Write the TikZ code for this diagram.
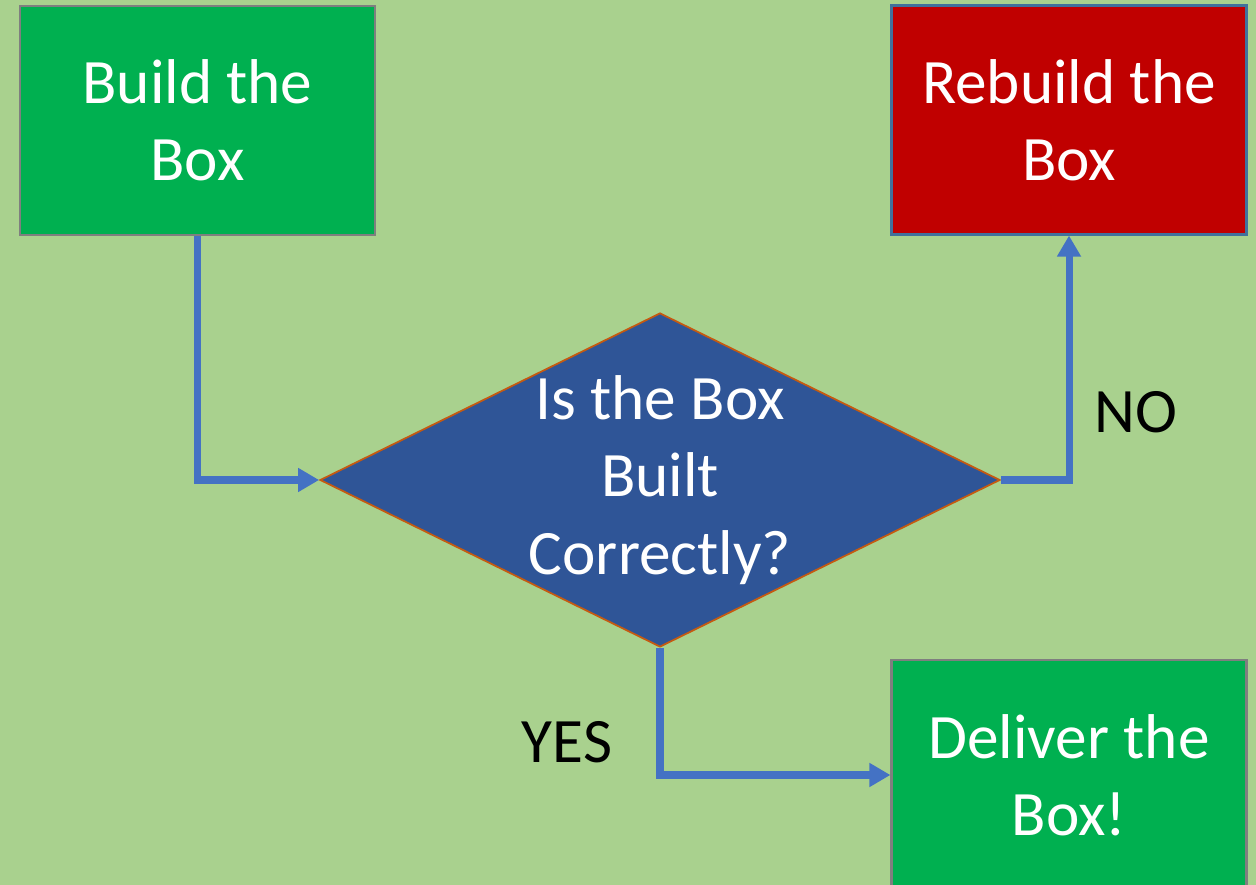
\documentclass[tikz,border=0pt]{standalone}
\usepackage{fontspec}
\setmainfont{Carlito}
\usetikzlibrary{shapes.geometric,arrows.meta,positioning}
\definecolor{bggreen}{HTML}{A9D18E}
\definecolor{boxgreen}{HTML}{00B050}
\definecolor{boxred}{HTML}{C00000}
\definecolor{boxgrey}{HTML}{7F7F7F}
\definecolor{redline}{HTML}{41719C}
\definecolor{diafill}{HTML}{2F5597}
\definecolor{dialine}{HTML}{C55A11}
\definecolor{flowblue}{HTML}{4472C4}

\begin{document}
\begin{tikzpicture}
	\tikzstyle{stepbox} = [rectangle, draw=boxgrey, line width=1.2pt, minimum width=7.1cm, minimum height=4.58cm, text=white, align=center, font=\fontsize{36}{44}\selectfont]
	\tikzstyle{decision} = [diamond, draw=dialine, line width=1pt, fill=diafill, inner sep=-1.2cm, minimum width=13.6cm, minimum height=6.68cm, text=white, align=center, font=\fontsize{36}{44}\selectfont]
	\tikzstyle{flow} = [draw=flowblue, line width=4pt, -{Triangle[width=13pt, length=12pt]}]
	\tikzstyle{answer} = [text=black, font=\fontsize{36}{44}\selectfont]
	\clip (0,0) rectangle (25.12,17.7);
	\fill[bggreen] (0,0) rectangle (25.12,17.7);
	
	\node[stepbox, fill=boxgreen] (build) at (3.95, 15.29) {Build the\\Box};
	\node[stepbox, fill=boxred, draw=redline] (rebuild) at (21.38, 15.3) {Rebuild the\\Box};
	\node[decision] (check) at (13.2, 8.1) {Is the Box\\Built\\Correctly?};
	\node[stepbox, fill=boxgreen, minimum height=4.6cm] (deliver) at (21.38, 2.2) {Deliver the\\Box!};
	
	\draw[flow] (build.south) |- (check.west);
	\draw[flow] (check.east) -| (rebuild.south);
	\draw[flow] (check.south) |- (deliver.west);
	
	\node[answer] (no) at (22.72, 9.45) {NO};
	\node[answer] (yes) at (11.34, 2.86) {YES};
	
\end{tikzpicture}
\end{document}
